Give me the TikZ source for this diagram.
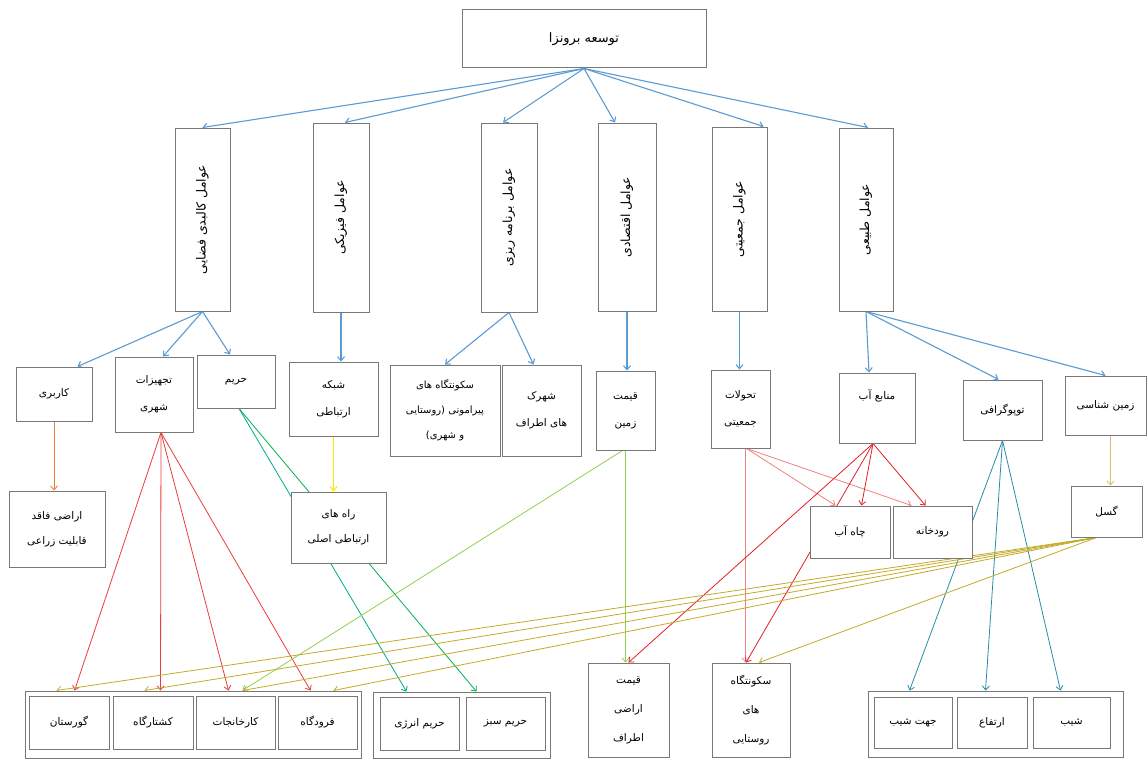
\documentclass[tikz,border=0pt]{standalone}
\usepackage{fontspec}
\newfontfamily\prsfont[Script=Arabic]{DejaVu Sans}
\TeXXeTstate=1
\newcommand{\prs}[1]{\beginR #1\endR}
\usetikzlibrary{arrows.meta}
\pgfdeclarelayer{bg}
\pgfdeclarelayer{paper}
\pgfsetlayers{paper,bg,main}
\definecolor{bordergray}{RGB}{120,120,120}
\definecolor{blu}{RGB}{91,155,213}
\definecolor{orng}{RGB}{237,125,49}
\definecolor{yel}{RGB}{250,235,0}
\definecolor{redA}{RGB}{235,60,60}
\definecolor{redB}{RGB}{230,30,40}
\definecolor{pnk}{RGB}{240,130,130}
\definecolor{lgrn}{RGB}{146,208,80}
\definecolor{grnA}{RGB}{0,176,80}
\definecolor{grnB}{RGB}{0,170,140}
\definecolor{olive}{RGB}{196,170,40}
\definecolor{tealc}{RGB}{40,140,170}
\definecolor{tan}{RGB}{210,190,110}
\tikzset{
  box/.style={draw=bordergray, line width=1pt, fill=white, align=center, inner sep=1pt,
    font=\prsfont\fontsize{10.5}{27}\selectfont},
  vtext/.style={rotate=90, font=\prsfont\fontsize{12.5}{15}\selectfont, inner sep=0pt},
  conn/.style={line width=0.8pt, -{Straight Barb[length=4pt,width=7pt]}},
  bconn/.style={conn, line width=1.1pt, blu},
}
\begin{document}
\begin{tikzpicture}[x=1pt,y=-1pt]
\begin{pgfonlayer}{paper}
\fill[white] (0,0) rectangle (1148,760);
\end{pgfonlayer}
\useasboundingbox (0,0) rectangle (1148,760);
% top
\node[box, minimum width=244, minimum height=58, font=\prsfont\fontsize{13}{16}\selectfont] (T) at (584,39) {\prs{توسعه برونزا}};
% vertical boxes
\node[box, minimum width=55, minimum height=183] (V1) at (202.5,219.5) {};
\node[box, minimum width=56, minimum height=189] (V2) at (341,217.5) {};
\node[box, minimum width=56, minimum height=189] (V3) at (509,217.5) {};
\node[box, minimum width=58, minimum height=188] (V4) at (627,217) {};
\node[box, minimum width=55, minimum height=184] (V5) at (739.5,219) {};
\node[box, minimum width=54, minimum height=183] (V6) at (866,219.5) {};
\node[vtext] (V1t) at (V1) {\prs{عوامل کالبدی فضایی}};
\node[vtext] (V2t) at (V2) {\prs{عوامل فیزیکی}};
\node[vtext] (V3t) at (V3) {\prs{عوامل برنامه ریزی}};
\node[vtext] (V4t) at (V4) {\prs{عوامل اقتصادی}};
\node[vtext] (V5t) at (V5) {\prs{عوامل جمعیتی}};
\node[vtext] (V6t) at (V6) {\prs{عوامل طبیعی}};
% second row
\node[box, minimum width=76, minimum height=54] (R1) at (54,394) {\prs{کاربری}};
\node[box, minimum width=78, minimum height=75] (R2) at (154,394.5) {\prs{تجهیزات}\\\prs{شهری}};
\node[box, minimum width=78, minimum height=53] (R3) at (236,381.5) {\prs{حریم}};
\node[box, minimum width=89, minimum height=74] (R4) at (333.5,399) {\prs{شبکه}\\\prs{ارتباطی}};
\node[box, minimum width=110, minimum height=91, font=\prsfont\fontsize{10}{25}\selectfont] (R5) at (445,410.5) {\prs{سکونتگاه های}\\\prs{پیرامونی (روستایی}\\\prs{و شهری)}};
\node[box, minimum width=79, minimum height=91] (R6) at (541.5,410.5) {\prs{شهرک}\\\prs{های اطراف}};
\node[box, minimum width=59, minimum height=79] (R7) at (625.5,410.5) {\prs{قیمت}\\\prs{زمین}};
\node[box, minimum width=59, minimum height=78] (R8) at (740.5,409) {\prs{تحولات}\\\prs{جمعیتی}};
\node[box, minimum width=76, minimum height=70] (R9) at (877,408) {\prs{منابع آب}\\[-8pt]\strut};
\node[box, minimum width=79, minimum height=60] (R10) at (1002.5,410) {\prs{توپوگرافی}};
\node[box, minimum width=81, minimum height=59] (R11) at (1105.5,405.5) {\prs{زمین شناسی}};
% third row
\node[box, minimum width=96, minimum height=76, font=\prsfont\fontsize{10.5}{25}\selectfont] (S1) at (57,529) {\prs{اراضی فاقد}\\\prs{قابلیت زراعی}};
\node[box, minimum width=95, minimum height=71, font=\prsfont\fontsize{10.5}{25}\selectfont] (S2) at (338.5,527.5) {\prs{راه های}\\\prs{ارتباطی اصلی}};
\node[box, minimum width=80, minimum height=52] (S3) at (850,532) {\prs{چاه آب}};
\node[box, minimum width=79, minimum height=52] (S4) at (932.5,532) {\prs{رودخانه}};
\node[box, minimum width=71, minimum height=51] (S5) at (1106.5,511.5) {\prs{گسل}};
% bottom groups
\node[box, minimum width=336, minimum height=67] (G1) at (193,724.5) {};
\node[box, minimum width=80, minimum height=53] (B1) at (69,722.5) {\prs{گورستان}};
\node[box, minimum width=80, minimum height=53] (B2) at (153,722.5) {\prs{کشتارگاه}};
\node[box, minimum width=79, minimum height=53] (B3) at (235.5,722.5) {\prs{کارخانجات}};
\node[box, minimum width=79, minimum height=53] (B4) at (317.5,722.5) {\prs{فرودگاه}};
\node[box, minimum width=177, minimum height=66] (G2) at (461.5,725) {};
\node[box, minimum width=79, minimum height=53] (B5) at (419.5,723.5) {\prs{حریم انرژی}};
\node[box, minimum width=79, minimum height=53] (B6) at (505.5,723.5) {\prs{حریم سبز}};
\node[box, minimum width=81, minimum height=94, font=\prsfont\fontsize{10.5}{29}\selectfont] (B7) at (628.5,710) {\prs{قیمت}\\\prs{اراضی}\\\prs{اطراف}};
\node[box, minimum width=78, minimum height=94, font=\prsfont\fontsize{10.5}{29}\selectfont] (B8) at (751,710) {\prs{سکونتگاه}\\\prs{های}\\\prs{روستایی}};
\node[box, minimum width=255, minimum height=66] (G3) at (995.5,724) {};
\node[box, minimum width=78, minimum height=51] (B9) at (913,722.5) {\prs{جهت شیب}};
\node[box, minimum width=70, minimum height=51] (B10) at (992,722.5) {\prs{ارتفاع}};
\node[box, minimum width=77, minimum height=51] (B11) at (1071.5,722.5) {\prs{شیب}};
% connectors
\begin{pgfonlayer}{bg}
\draw[bconn] (T.south) -- (V1.north);
\draw[bconn] (T.south) -- ([xshift=4pt]V2.north);
\draw[bconn] (T.south) -- ([xshift=-6pt]V3.north);
\draw[bconn] (T.south) -- ([xshift=-12pt]V4.north);
\draw[bconn] (T.south) -- ([xshift=-4pt]V5.north east);
\draw[bconn] (T.south) -- ([xshift=2pt]V6.north);
\draw[bconn] (V1.south) -- ([xshift=-15pt]R1.north east);
\draw[bconn] (V1.south) -- ([xshift=9pt]R2.north);
\draw[bconn] (V1.south) -- ([xshift=-6pt]R3.north);
\draw[bconn] (V2.south) -- (V2.south |- R4.north);
\draw[bconn] (V3.south) -- (R5.north);
\draw[bconn] (V3.south) -- ([xshift=-8pt]R6.north);
\draw[bconn] (V4.south) -- (V4.south |- R7.north);
\draw[bconn] (V5.south) -- (V5.south |- R8.north);
\draw[bconn] (V6.south) -- ([xshift=-8pt]R9.north);
\draw[bconn] (V6.south) -- ([xshift=-4pt]R10.north);
\draw[bconn] (V6.south) -- (R11.north);
\draw[conn, orng] (R1.south) -- (R1.south |- S1.north);
\draw[conn, yel, line width=1.1pt] (R4.south) -- (R4.south |- S2.north);
\draw[conn, tan] ([xshift=5pt]R11.south) -- ([xshift=5pt]R11.south |- S5.north);
% tajhizat -> group 1
\draw[conn, redA] ([xshift=7pt]R2.south) -- ([xshift=50pt]G1.north west);
\draw[conn, redA] ([xshift=7pt]R2.south) -- ([xshift=136pt]G1.north west);
\draw[conn, redA] ([xshift=7pt]R2.south) -- ([xshift=204pt]G1.north west);
\draw[conn, redA] ([xshift=7pt]R2.south) -- ([xshift=286pt]G1.north west);
% harim -> group 2
\draw[conn, grnB] ([xshift=3pt]R3.south) -- ([xshift=34pt]G2.north west);
\draw[conn, grnA] ([xshift=3pt]R3.south) -- ([xshift=104pt]G2.north west);
% gheymat zamin
\draw[conn, lgrn] (R7.south) -- (R7.south |- B7.north);
\draw[conn, lgrn] ([xshift=-3pt]R7.south) -- ([xshift=218pt]G1.north west);
% tahavolat
\draw[conn, pnk] ([xshift=6pt]R8.south) -- ([xshift=26pt]S3.north west);
\draw[conn, pnk] ([xshift=6pt]R8.south) -- ([xshift=19pt]S4.north west);
\draw[conn, pnk] ([xshift=5pt]R8.south) -- ([xshift=5pt]R8.south |- B8.north);
% manabe ab
\draw[conn, redB] ([xshift=-4pt]R9.south) -- ([xshift=52pt]S3.north west);
\draw[conn, redB] ([xshift=-4pt]R9.south) -- ([xshift=33pt]S4.north west);
\draw[conn, redB] ([xshift=-4pt]R9.south) -- (B7.north);
\draw[conn, redB] ([xshift=-4pt]R9.south) -- ([xshift=-5pt]B8.north);
% topography
\draw[conn, tealc] (R10.south) -- ([xshift=42pt]G3.north west);
\draw[conn, tealc] (R10.south) -- ([xshift=118pt]G3.north west);
\draw[conn, tealc] (R10.south) -- ([xshift=193pt]G3.north west);
% gosal
\draw[conn, olive] ([xshift=-10pt]S5.south) -- ([xshift=32pt]G1.north west);
\draw[conn, olive] ([xshift=-10pt]S5.south) -- ([xshift=120pt]G1.north west);
\draw[conn, olive] ([xshift=-10pt]S5.south) -- ([xshift=218pt]G1.north west);
\draw[conn, olive] ([xshift=-10pt]S5.south) -- ([xshift=309pt]G1.north west);
\draw[conn, olive] ([xshift=-10pt]S5.south) -- ([xshift=8pt]B8.north);
\end{pgfonlayer}
\end{tikzpicture}
\end{document}
